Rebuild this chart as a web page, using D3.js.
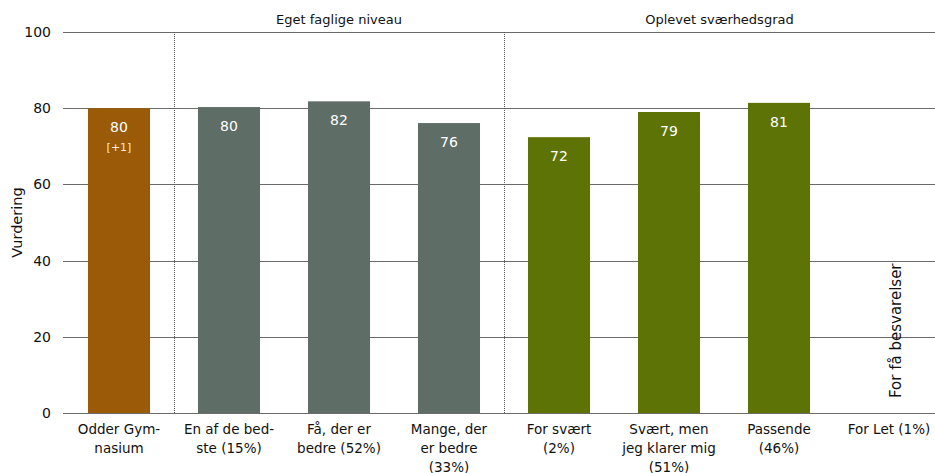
<!DOCTYPE html>
<html>
<head>
<meta charset="utf-8">
<script src="https://cdn.jsdelivr.net/npm/d3@7"></script>
<style>
  body { margin: 0; background: #fff; }
  text { font-family: "DejaVu Sans", sans-serif; }
</style>
</head>
<body>
<div id="chart"></div>
<script>
const categories = [
  ["Odder Gym-", "nasium"],
  ["En af de bed-", "ste (15%)"],
  ["Få, der er", "bedre (52%)"],
  ["Mange, der", "er bedre", "(33%)"],
  ["For svært", "(2%)"],
  ["Svært, men", "jeg klarer mig", "(51%)"],
  ["Passende", "(46%)"],
  ["For Let (1%)"]
];
const values = [80, 80.3, 81.8, 76.1, 72.4, 79.0, 81.4, null];
const labels = ["80", "80", "82", "76", "72", "79", "81", null];
const groupOf = ["school", "level", "level", "level", "diff", "diff", "diff", "diff"];
const groups = [
  {name: "Eget faglige niveau", from: 1, to: 3},
  {name: "Oplevet sværhedsgrad", from: 4, to: 7}
];
const yTicks = [0, 20, 40, 60, 80, 100];
const colors = {school: "#9a5a07", level: "#5e6d66", diff: "#5e7305"};

const width = 935, height = 473;
const margin = {top: 32, right: 0, bottom: 60, left: 63};

const svg = d3.select("#chart").append("svg")
  .attr("width", width)
  .attr("height", height);

const x = d3.scaleBand()
  .domain(d3.range(categories.length))
  .range([64, 944])
  .paddingInner(0.436)
  .paddingOuter(0.218);

const y = d3.scaleLinear()
  .domain([0, 100])
  .range([height - margin.bottom, margin.top]);

// gridlines
svg.append("g")
  .selectAll("line")
  .data(yTicks)
  .join("line")
  .attr("x1", margin.left)
  .attr("x2", width)
  .attr("y1", d => Math.round(y(d)) + 0.5)
  .attr("y2", d => Math.round(y(d)) + 0.5)
  .attr("stroke", "#6b6b6b")
  .attr("stroke-width", 1);

// y tick labels
svg.append("g")
  .selectAll("text")
  .data(yTicks)
  .join("text")
  .attr("x", 51)
  .attr("y", d => y(d))
  .attr("dy", "0.35em")
  .attr("text-anchor", "end")
  .attr("font-size", 14)
  .attr("fill", "#111")
  .text(d => d);

svg.append("text")
  .attr("transform", "translate(22," + y(50) + ") rotate(-90)")
  .attr("text-anchor", "middle")
  .attr("font-size", 14.5)
  .attr("fill", "#111")
  .text("Vurdering");

// group separators (dotted)
const sepX = groups.map(g => x(g.from) - x.step() * x.paddingInner() / 2);
svg.append("g")
  .selectAll("line")
  .data(sepX)
  .join("line")
  .attr("x1", d => Math.round(d) + 0.5)
  .attr("x2", d => Math.round(d) + 0.5)
  .attr("y1", y(100))
  .attr("y2", y(0))
  .attr("stroke", "#555")
  .attr("stroke-dasharray", "1,1");

// group titles
svg.append("g")
  .selectAll("text")
  .data(groups)
  .join("text")
  .attr("x", (g, i) => {
    const left = sepX[i];
    const right = i + 1 < sepX.length ? sepX[i + 1] : width;
    return (left + right) / 2;
  })
  .attr("y", 24)
  .attr("text-anchor", "middle")
  .attr("font-size", 13)
  .attr("fill", "#111")
  .text(g => g.name);

// bars
const idx = d3.range(categories.length).filter(i => values[i] != null);
svg.append("g")
  .selectAll("rect")
  .data(idx)
  .join("rect")
  .attr("x", i => x(i))
  .attr("width", x.bandwidth())
  .attr("y", i => y(values[i]))
  .attr("height", i => y(0) - y(values[i]))
  .attr("fill", i => colors[groupOf[i]]);

// value labels
svg.append("g")
  .selectAll("text")
  .data(idx)
  .join("text")
  .attr("x", i => x(i) + x.bandwidth() / 2)
  .attr("y", i => y(values[i]) + 24)
  .attr("text-anchor", "middle")
  .attr("font-size", 14)
  .attr("fill", "#fff")
  .text(i => labels[i]);

svg.append("text")
  .attr("x", x(0) + x.bandwidth() / 2)
  .attr("y", y(values[0]) + 43)
  .attr("text-anchor", "middle")
  .attr("font-size", 11)
  .attr("fill", "#f6ecdc")
  .text("[+1]");

// "For få besvarelser"
svg.append("text")
  .attr("transform", "translate(" + (x(7) + x.bandwidth() / 2 + 12) + "," + (y(0) - 15) + ") rotate(-90)")
  .attr("text-anchor", "start")
  .attr("font-size", 15)
  .attr("fill", "#111")
  .text("For få besvarelser");

// x labels
const xl = svg.append("g")
  .selectAll("text")
  .data(categories)
  .join("text")
  .attr("x", (d, i) => x(i) + x.bandwidth() / 2)
  .attr("y", y(0) + 21)
  .attr("text-anchor", "middle")
  .attr("font-size", 13.5)
  .attr("fill", "#111");
xl.selectAll("tspan")
  .data(d => d)
  .join("tspan")
  .attr("x", function() { return d3.select(this.parentNode).attr("x"); })
  .attr("dy", (d, i) => i === 0 ? 0 : 19)
  .text(d => d);
</script>
</body>
</html>
